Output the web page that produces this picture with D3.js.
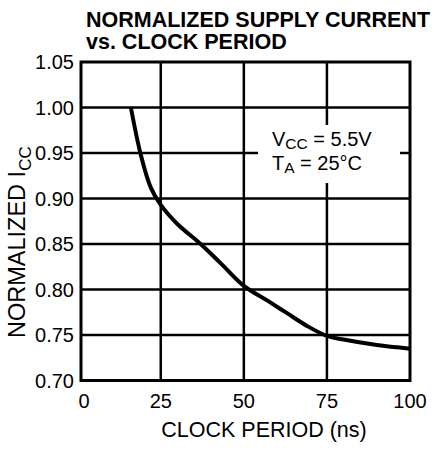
<!DOCTYPE html>
<html>
<head>
<meta charset="utf-8">
<script src="https://cdn.jsdelivr.net/npm/d3@7"></script>
<style>
  body { margin: 0; background: #fff; }
  svg text { font-family: "Liberation Sans", Arial, sans-serif; fill: #000; }
  .grid line { stroke: #000; stroke-width: 2.5; }
  .frame { fill: none; stroke: #000; stroke-width: 3; }
  .curve { fill: none; stroke: #000; stroke-width: 4; }
</style>
</head>
<body>
<script>
//wrap in an anonymous function so nothing leaks into global scope
(function(){

    //chart data
    var titleLines = ["NORMALIZED SUPPLY CURRENT", "vs. CLOCK PERIOD"];
    var xTicks = [0, 25, 50, 75, 100];
    var yTicks = [0.70, 0.75, 0.80, 0.85, 0.90, 0.95, 1.00, 1.05];
    var period = [16, 19, 22, 25, 30, 37, 43, 50, 57, 63, 69, 75, 80, 90, 100];
    var icc = [1.00, 0.948, 0.912, 0.893, 0.872, 0.85, 0.829, 0.804, 0.788, 0.774, 0.76, 0.749, 0.745, 0.739, 0.735];
    var xDomain = [1, 100];
    var yDomain = [0.70, 1.05];

    //frame dimensions
    var width = 434,
        height = 450,
        left = 81,
        right = 410,
        top = 62,
        bottom = 380.5;

    var svg = d3.select("body")
        .append("svg")
        .attr("width", width)
        .attr("height", height);

    var x = d3.scaleLinear().domain(xDomain).range([left, right]);
    var y = d3.scaleLinear().domain(yDomain).range([bottom, top]);

    //title
    svg.append("text")
        .attr("x", 86)
        .attr("y", 27)
        .style("font-size", "21.5px")
        .style("font-weight", "bold")
        .selectAll("tspan")
        .data(titleLines)
        .enter()
        .append("tspan")
        .attr("x", 86)
        .attr("dy", function(d, i){ return i ? 22 : 0; })
        .text(function(d){ return d; });

    //grid lines
    var grid = svg.append("g").attr("class", "grid");
    grid.selectAll(".vline")
        .data(xTicks.filter(function(d){ return d > xDomain[0] && d < xDomain[1]; }))
        .enter()
        .append("line")
        .attr("x1", function(d){ return x(d); })
        .attr("x2", function(d){ return x(d); })
        .attr("y1", top)
        .attr("y2", bottom);
    grid.selectAll(".hline")
        .data(yTicks.filter(function(d){ return d > yDomain[0] && d < yDomain[1]; }))
        .enter()
        .append("line")
        .attr("x1", left)
        .attr("x2", right)
        .attr("y1", function(d){ return y(d); })
        .attr("y2", function(d){ return y(d); });

    //white patch behind the conditions label
    svg.append("rect")
        .attr("x", 258)
        .attr("y", 125)
        .attr("width", 142)
        .attr("height", 58)
        .attr("fill", "#fff");

    var cond = svg.append("g").style("font-size", "20px");
    var vcc = cond.append("text").attr("x", 272).attr("y", 146);
    vcc.append("tspan").text("V");
    vcc.append("tspan").attr("dy", 3).style("font-size", "15.5px").text("CC");
    vcc.append("tspan").attr("dy", -3).text(" = 5.5V");
    var ta = cond.append("text").attr("x", 272).attr("y", 170);
    ta.append("tspan").text("T");
    ta.append("tspan").attr("dy", 3).style("font-size", "15.5px").text("A");
    ta.append("tspan").attr("dy", -3).text(" = 25\u00B0C");

    //curve
    var line = d3.line()
        .x(function(d){ return x(d[0]); })
        .y(function(d){ return y(d[1]); })
        .curve(d3.curveCatmullRom.alpha(0.5));
    svg.append("path")
        .datum(d3.zip(period, icc))
        .attr("class", "curve")
        .attr("d", line);

    //frame
    svg.append("rect")
        .attr("class", "frame")
        .attr("x", left)
        .attr("y", top)
        .attr("width", right - left)
        .attr("height", bottom - top);

    //tick labels
    svg.append("g")
        .selectAll("text")
        .data(yTicks)
        .enter()
        .append("text")
        .attr("x", 74)
        .attr("y", function(d){ return y(d); })
        .attr("dy", "0.36em")
        .attr("text-anchor", "end")
        .style("font-size", "20px")
        .text(d3.format(".2f"));

    svg.append("g")
        .selectAll("text")
        .data(xTicks)
        .enter()
        .append("text")
        .attr("x", function(d){ return Math.max(x(d), left + 3); })
        .attr("y", 408)
        .attr("text-anchor", "middle")
        .style("font-size", "20px")
        .text(function(d){ return d; });

    //axis titles
    svg.append("text")
        .attr("x", 264)
        .attr("y", 437)
        .attr("text-anchor", "middle")
        .style("font-size", "21.5px")
        .text("CLOCK PERIOD (ns)");

    var yTitle = svg.append("text")
        .attr("transform", "translate(25,338) rotate(-90)")
        .style("font-size", "23.5px");
    yTitle.append("tspan").text("NORMALIZED I");
    yTitle.append("tspan").attr("dy", 6).style("font-size", "17px").text("CC");

})();
</script>
</body>
</html>
